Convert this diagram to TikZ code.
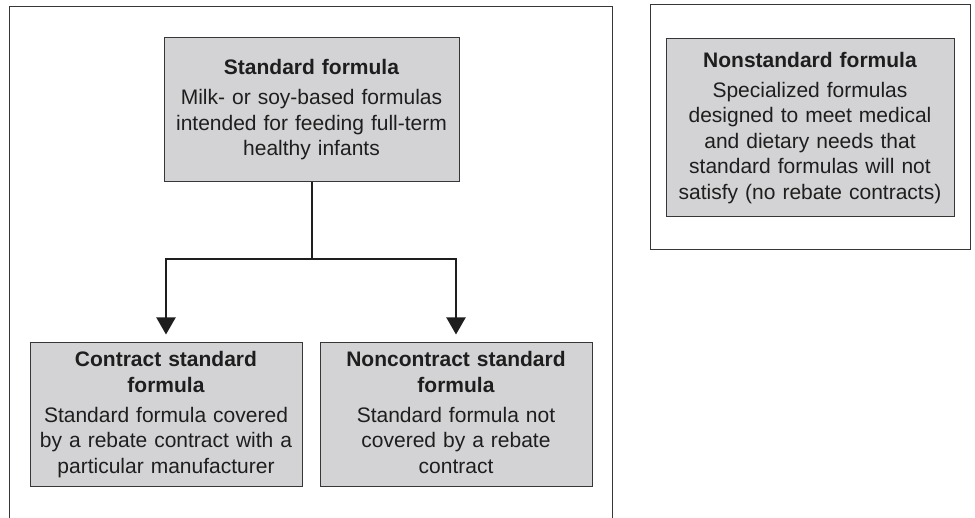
\documentclass[tikz,border=0pt]{standalone}
\usepackage{fontspec}
\setmainfont{Liberation Sans}
\usetikzlibrary{arrows.meta}
\definecolor{boxfill}{RGB}{211,211,213}
\definecolor{boxline}{RGB}{55,55,55}
\definecolor{inkc}{RGB}{30,30,30}
\tikzset{
  infobox/.style={draw=boxline, line width=1pt, fill=boxfill, inner sep=0pt,
    align=center, text=inkc, font=\fontsize{21}{25.5}\selectfont},
  frame/.style={draw=boxline, line width=1pt},
  conn/.style={draw=inkc, line width=2pt},
  arr/.style={conn, -{Triangle[width=19pt,length=17pt]}, shorten >=8pt}
}
\begin{document}
\begin{tikzpicture}[x=1pt,y=-1pt]
\useasboundingbox (0,0) rectangle (975,518);
% frames
\draw[frame] (9,518) -- (9,7) -- (612,7) -- (612,518);
\draw[frame] (650,5) rectangle (970,250);
% boxes
\node[infobox, minimum width=295pt, minimum height=144pt, text width=289pt] (std) at (311.5,110)
  {\strut\textbf{Standard formula}\\[4.5pt]Milk- or soy-based formulas\\intended for feeding full-term\\healthy infants\strut};
\node[infobox, minimum width=272pt, minimum height=144pt, text width=268pt] (cs) at (166,415)
  {\strut\textbf{Contract standard}\\\textbf{formula}\\[4.5pt]Standard formula covered\\by a rebate contract with a\\particular manufacturer\strut};
\node[infobox, minimum width=272pt, minimum height=144pt, text width=268pt] (ns) at (456,415)
  {\strut\textbf{Noncontract standard}\\\textbf{formula}\\[4.5pt]Standard formula not\\covered by a rebate\\contract\strut};
\node[infobox, minimum width=288pt, minimum height=178pt, text width=282pt] (nsf) at (810,128)
  {\strut\textbf{Nonstandard formula}\\[4.5pt]Specialized formulas\\designed to meet medical\\and dietary needs that\\standard formulas will not\\satisfy (no rebate contracts)\strut};
% connectors
\coordinate (j) at (311.5,259);
\draw[conn] (std.south) -- (j);
\draw[arr] (j) -| (cs.north);
\draw[arr] (j) -| (ns.north);
\end{tikzpicture}
\end{document}
